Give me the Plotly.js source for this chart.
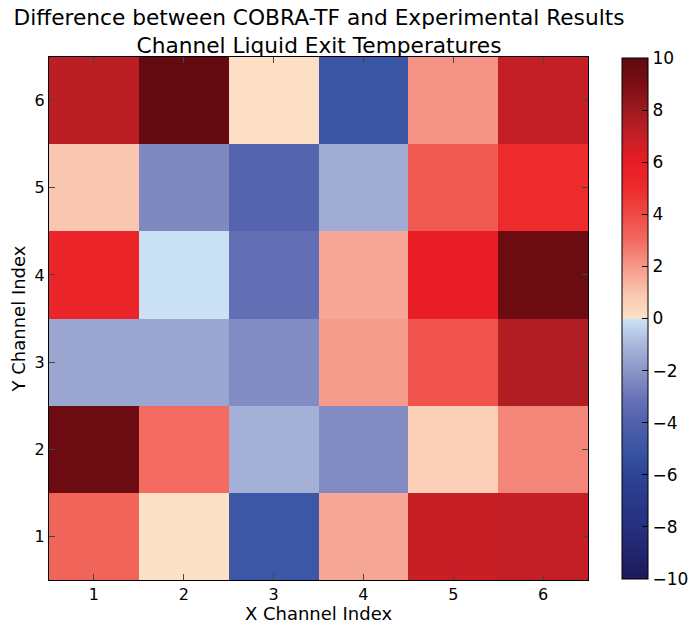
<!DOCTYPE html>
<html><head><meta charset="utf-8">
<script src="https://cdn.plot.ly/plotly-3.0.1.min.js"></script>
<style>body{margin:0;padding:0;background:#fff}#c{width:692px;height:624px}</style>
</head><body><div id="c"></div>
<script>
const xIndex = [1, 2, 3, 4, 5, 6];
const yIndex = [1, 2, 3, 4, 5, 6];
const row1 = [3.2, 0.05, -4.9, 1.7, 6.9, 7.0];
const row2 = [9.5, 3.0, -1.2, -2.3, 0.6, 2.4];
const row3 = [-1.5, -1.5, -2.3, 1.9, 3.7, 7.5];
const row4 = [5.4, -0.05, -3.3, 1.7, 5.9, 9.5];
const row5 = [0.9, -2.4, -3.8, -1.3, 3.5, 5.0];
const row6 = [7.2, 9.8, 0.1, -5.0, 2.1, 7.0];
const colorTicks = [-10, -8, -6, -4, -2, 0, 2, 4, 6, 8, 10];

const scale = [
  [0.0, '#1c1a5a'], [0.1, '#25307f'], [0.2, '#2e4294'], [0.25, '#3a56a4'],
  [0.3, '#5060ac'], [0.35, '#6a75b8'], [0.4, '#8c96c8'], [0.45, '#aab6da'],
  [0.4999, '#cce3f5'], [0.5001, '#fde2c8'], [0.55, '#f9c4ac'], [0.6, '#f5998a'],
  [0.65, '#f26a60'], [0.7, '#ef4a44'], [0.75, '#ed2a2c'], [0.8, '#e81c24'],
  [0.85, '#c41f26'], [0.9, '#9c1a1f'], [0.95, '#7a0e13'], [1.0, '#5e0a10']
];

const trace = {
  type: 'heatmap', x: xIndex, y: yIndex,
  z: [row1, row2, row3, row4, row5, row6],
  zmin: -10, zmax: 10, colorscale: scale,
  colorbar: {
    x: 1.063, xanchor: 'left', y: 0.998, yanchor: 'top', len: 0.996, lenmode: 'fraction',
    thickness: 26, outlinewidth: 1, outlinecolor: '#000',
    tickvals: colorTicks, ticks: 'inside', ticklen: 6, tickcolor: '#000',
    tickfont: {family: 'DejaVu Sans', size: 17, color: '#000'}, ypad: 0, xpad: 0
  }
};
const font = {family: 'DejaVu Sans', color: '#000'};
const layout = {
  width: 692, height: 624,
  margin: {l: 49, r: 104, t: 57, b: 44, autoexpand: false},
  paper_bgcolor: '#fff', plot_bgcolor: '#fff',
  title: {text: 'Difference between COBRA-TF and Experimental Results<br>Channel Liquid Exit Temperatures',
    font: {family: 'DejaVu Sans', size: 21.7, color: '#000'}, x: 0.461, xanchor: 'center', y: 0.96, yanchor: 'top'},
  xaxis: {range: [0.5, 6.5], tickvals: xIndex, ticks: 'inside', ticklen: 6, mirror: 'ticks',
    showline: true, linecolor: '#000', linewidth: 1, showgrid: false, zeroline: false,
    tickfont: Object.assign({size: 16}, font),
    title: {text: 'X Channel Index', font: Object.assign({size: 18}, font), standoff: 4}},
  yaxis: {range: [0.5, 6.5], tickvals: yIndex, ticks: 'inside', ticklen: 6, mirror: 'ticks',
    showline: true, linecolor: '#000', linewidth: 1, showgrid: false, zeroline: false,
    tickfont: Object.assign({size: 16}, font),
    title: {text: 'Y Channel Index', font: Object.assign({size: 18}, font), standoff: 4}}
};
Plotly.newPlot('c', [trace], layout, {displayModeBar: false});
</script></body></html>
